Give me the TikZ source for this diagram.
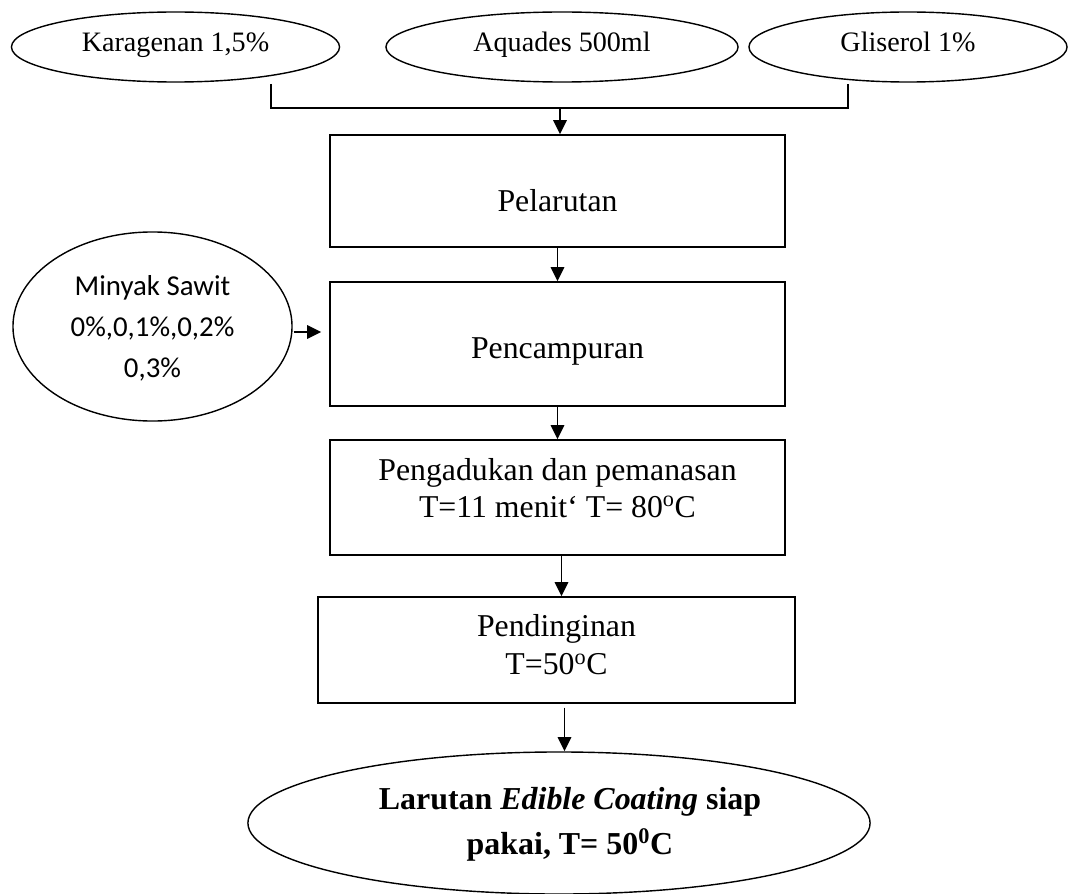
\documentclass[tikz,border=0pt]{standalone}
\usepackage{fontspec}
\setmainfont{Liberation Serif}
\newfontfamily\calibri{Carlito}
\usetikzlibrary{shapes.geometric,arrows.meta,calc}
\begin{document}
\begin{tikzpicture}[x=0.025cm,y=-0.025cm,
  oval/.style={ellipse,draw,line width=1pt,inner sep=0pt},
  box/.style={rectangle,draw,line width=1pt,inner sep=0pt},
  arr/.style={-{Triangle[length=10pt,width=9.5pt]},line width=1.35pt},
  ln/.style={line width=1pt},
  captext/.style={text height=0.662em,text depth=0pt},
  small/.style={font=\fontsize{20}{25}\selectfont},
  txt/.style={align=center,inner sep=0pt,font=\fontsize{22.6}{26.3}\selectfont}]
\useasboundingbox (0,0) rectangle (1070,893);

% top ellipses
\node[oval,minimum width=8.2cm,minimum height=1.75cm,small,captext] (kar) at (175.5,47) {Karagenan 1,5\%};
\node[oval,minimum width=8.8cm,minimum height=1.75cm,small,captext] (aqu) at (562,47) {Aquades 500ml};
\node[oval,minimum width=7.95cm,minimum height=1.75cm,small,captext] (gli) at (908,47) {Gliserol 1\%};

% process boxes
\node[box,minimum width=11.375cm,minimum height=2.8cm] (pel) at (557.5,191) {};
\node[txt,anchor=base] (pelt) at (557.5,211) {Pelarutan};
\node[box,minimum width=11.375cm,minimum height=3.1cm] (pcm) at (557.5,344) {};
\node[txt,anchor=base] (pcmt) at (557.5,358) {Pencampuran};
\node[box,minimum width=11.375cm,minimum height=2.875cm] (adk) at (557.5,497.5) {};
\node[txt] (adkt) at (557.5,488) {Pengadukan dan pemanasan\\T=11 menit‘ T= 80\textsuperscript{o}C};
\node[box,minimum width=11.925cm,minimum height=2.65cm] (pdn) at (556.5,650) {};
\node[txt,font=\fontsize{22.6}{27}\selectfont] (pdnt) at (556.5,645) {Pendinginan\\T=50\textsuperscript{o}C};

% side ellipse
\node[oval,minimum width=6.975cm,minimum height=4.725cm] (mk) at (152.5,326.5) {};
\node[align=center,inner sep=0pt,font=\calibri\fontsize{20.5}{29.2}\selectfont] (mkt) at (152.5,328) {Minyak Sawit\\0\%,0,1\%,0,2\%\\0,3\%};

% final ellipse
\node[oval,minimum width=15.55cm,minimum height=3.55cm] (fin) at (559,823) {};
\node[txt,font=\bfseries\fontsize{22.7}{32}\selectfont] (fint) at (570,824) {Larutan \textit{Edible Coating} siap\\pakai, T= 50\textsuperscript{0}C};

% joining connector
\coordinate (j1) at (271,84);
\coordinate (j2) at (848,84);
\coordinate (jm) at (560,108);
\draw[ln] (j1) |- (jm) -| (j2);
\draw[arr] (jm) -- (jm |- pel.north);
\draw[arr] (pel.south) -- (pcm.north);
\draw[arr] ($(mk.east)+(1,5.5)$) -- ($(mk.east -| pcm.west)+(-8,5.5)$);
\draw[arr] (pcm.south) -- (adk.north);
\draw[arr] ([xshift=0.1cm]adk.south) -- ([xshift=0.1cm]adk.south |- pdn.north);
\draw[arr] ([xshift=0.2cm,yshift=-0.1cm]pdn.south) -- ([xshift=0.2cm]pdn.south |- fin.north);
\end{tikzpicture}
\end{document}
